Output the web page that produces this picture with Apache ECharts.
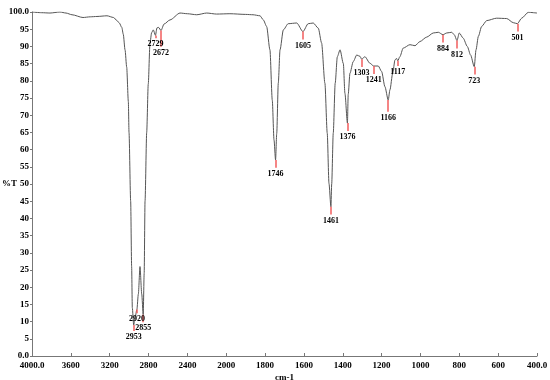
<!DOCTYPE html>
<html>
<head>
<meta charset="utf-8">
<script src="https://cdn.jsdelivr.net/npm/echarts@6/dist/echarts.min.js"></script>
<style>html,body{margin:0;padding:0;background:#fff;}#c{width:550px;height:380px;}</style>
</head>
<body>
<div id="c"></div>
<script>
// Spectrum data (wavenumber in cm-1, %T)
const wavenumbers = [4000,3900,3815,3712,3650,3588,3475,3400,3331,3228,3160,3125,3101,3075,3060,3042,3025,3008,3001,2984,2974,2967,2953,2940,2920,2905,2888,2870,2855,2845,2836,2819,2803,2785,2768,2751,2729,2713,2695,2672,2640,2579,2476,2400,2304,2201,2100,1981,1900,1862,1826,1809,1792,1775,1763,1754,1746,1740,1732,1723,1706,1681,1637,1605,1578,1552,1526,1509,1492,1480,1471,1461,1457,1449,1439,1428,1414,1397,1389,1376,1372,1363,1346,1328,1311,1303,1286,1260,1241,1217,1200,1183,1166,1157,1143,1131,1123,1117,1106,1089,1054,1028,1003,968,934,908,884,865,839,826,812,800,780,759,742,723,714,702,685,659,608,556,522,501,479,445,400];
const transmittance = [100,99.8,99.7,100,99.7,99.2,98.4,98.6,98.7,98.9,98.4,97.5,96.8,95.5,93.5,89,84,74,65,45,26,14,9,11,13.5,18,26,18,12,24,45,65,79,91,94,94.8,93.2,95.4,95.5,94.6,96.5,97.7,99.7,99.5,99.2,99.7,99.4,99.5,99.3,99.2,98.9,97.7,95.8,89,74.4,62.8,57,64.7,79.3,89,94.8,96.6,96.8,94.3,96.6,96.8,95.3,91,79.3,64.8,50.2,43.4,50,64.8,79.3,87,89,85,76.4,67.7,76,82.2,85.6,87.5,87.1,86.3,87,85.1,84.3,84.3,82.7,78.3,74.4,77.4,82.2,86.1,86.5,85.8,87,89.5,90.5,90.2,91.4,92.7,93.9,94.1,93.4,93.9,94.1,93.4,91.7,93.9,92.4,90,87.5,84.1,89,92.9,95.8,97.5,98.2,98.1,96.9,96.6,98.2,99.9,99.7];
const peakWavenumbers = [2953,2920,2855,2729,2672,1746,1605,1461,1376,1303,1241,1166,1117,884,812,723,501];
const xTickLabels = ['4000.0','3600','3200','2800','2400','2000','1800','1600','1400','1200','1000','800','600','400.0'];
const yTickLabels = ['0.0','5','10','15','20','25','30','35','40','45','50','55','60','65','70','75','80','85','90','95','100.0'];

// marker drop lengths (in %T) – display only
const defaultDrop = 2.3;
const customDrop = {2953: 1.7, 2920: 1.1, 2855: 2.2, 2729: 0.8, 2672: 4.7, 1166: 3.4, 1117: 1.5};

// Split-scale x-axis: 4000-2000 compressed (400/tick), 2000-400 expanded (200/tick)
function toT(wn) {
  return wn >= 2000 ? (4000 - wn) / 400 : 5 + (2000 - wn) / 200;
}

const seriesData = wavenumbers.map((w, i) => [toT(w), transmittance[i]]);

const markData = peakWavenumbers.map(w => {
  const tip = transmittance[wavenumbers.indexOf(w)];
  const drop = customDrop[w] !== undefined ? customDrop[w] : defaultDrop;
  return [
    {name: String(w), coord: [toT(w), tip]},
    {coord: [toT(w), tip - drop]}
  ];
});

const FONT = 'Liberation Serif';
const chart = echarts.init(document.getElementById('c'), null, {renderer: 'canvas'});
chart.setOption({
  animation: false,
  backgroundColor: '#ffffff',
  grid: {left: 32, right: 13, top: 12, bottom: 24, containLabel: false, outerBoundsMode: 'none'},
  xAxis: {
    type: 'value', min: 0, max: 13, interval: 1,
    name: 'cm-1', nameLocation: 'middle', nameGap: 17, nameMoveOverlap: false,
    nameTextStyle: {fontFamily: FONT, fontSize: 9, fontWeight: 'bold', color: '#000'},
    axisLine: {show: true, lineStyle: {color: '#777', width: 1}},
    axisTick: {show: true, inside: true, length: 3, lineStyle: {color: '#777'}},
    axisLabel: {
      fontFamily: FONT, fontSize: 9, fontWeight: 'bold', color: '#000', margin: 5,
      formatter: v => xTickLabels[Math.round(v)]
    },
    splitLine: {show: false}
  },
  yAxis: {
    type: 'value', min: 0, max: 100, interval: 5,
    name: '%T', nameLocation: 'middle', nameGap: 15, nameRotate: 0, nameMoveOverlap: false,
    nameTextStyle: {fontFamily: FONT, fontSize: 9, fontWeight: 'bold', color: '#000'},
    axisLine: {show: true, lineStyle: {color: '#777', width: 1}},
    axisTick: {show: true, length: 2, lineStyle: {color: '#777'}},
    axisLabel: {
      fontFamily: FONT, fontSize: 9, fontWeight: 'bold', color: '#000', margin: 3,
      formatter: v => yTickLabels[Math.round(v / 5)]
    },
    splitLine: {show: false}
  },
  series: [{
    type: 'line',
    data: seriesData,
    showSymbol: false,
    smooth: 0.25,
    smoothMonotone: 'x',
    lineStyle: {color: '#555', width: 1},
    markLine: {
      silent: true,
      symbol: ['none', 'none'],
      lineStyle: {color: '#f25c5c', width: 1.5, type: 'solid'},
      label: {
        show: true, position: 'end', distance: 2,
        formatter: '{b}',
        fontFamily: FONT, fontSize: 8, fontWeight: 'bold', color: '#000'
      },
      data: markData
    }
  }]
});
</script>
</body>
</html>
